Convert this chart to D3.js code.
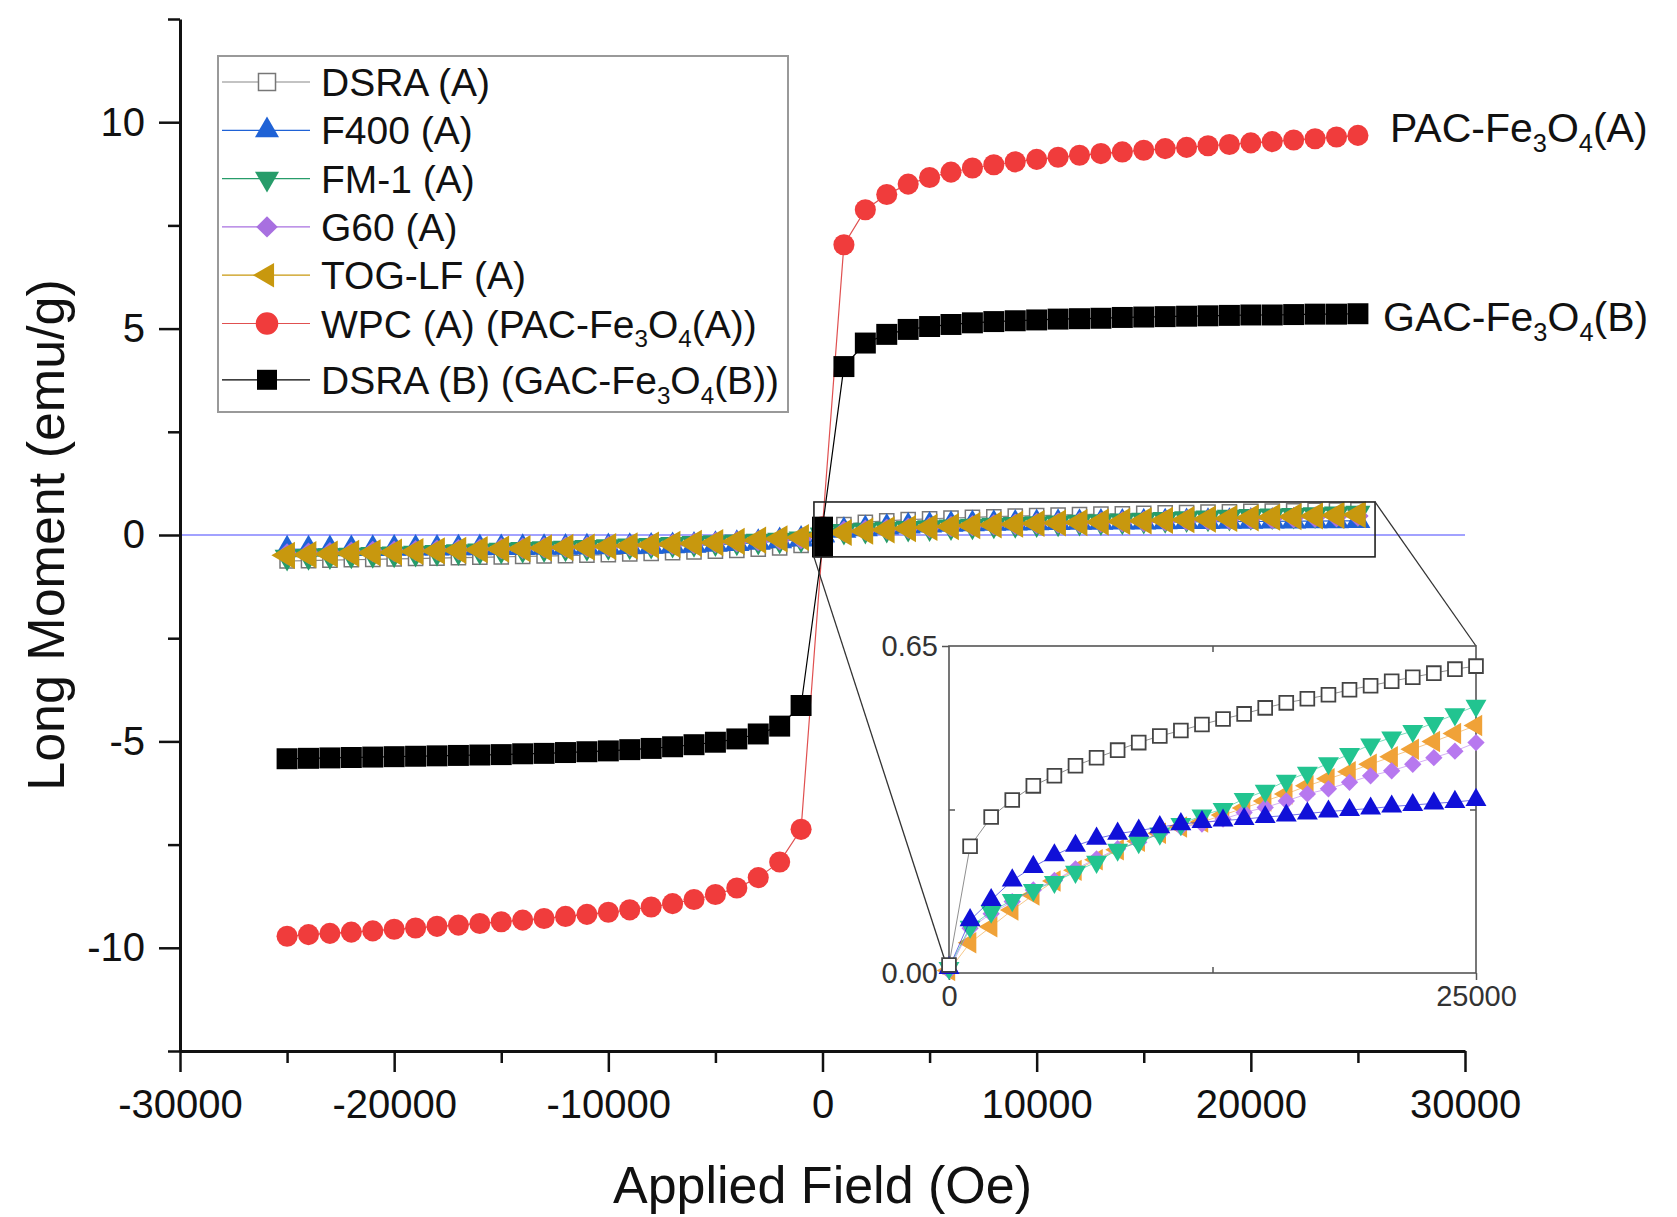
<!DOCTYPE html>
<html lang="en">
<head>
<meta charset="UTF-8">
<script src="https://d3js.org/d3.v7.min.js"></script>
<title>Magnetization curves</title>
<style>
    body{
        margin: 0;
        background: #fff;
        font-family: "Liberation Sans", Arial, sans-serif;
    }
    svg{
        display: block;
    }
</style>
</head>
<body>
<svg width="1677" height="1217"></svg>
<script>
// applied field steps (Oe): descending branch ends at 0, ascending branch starts at 0
const fieldNeg = [-25000,-24000,-23000,-22000,-21000,-20000,-19000,-18000,-17000,-16000,-15000,-14000,-13000,
    -12000,-11000,-10000,-9000,-8000,-7000,-6000,-5000,-4000,-3000,-2000,-1000,0]
const fieldPos = [0,1000,2000,3000,4000,5000,6000,7000,8000,9000,10000,11000,12000,13000,
    14000,15000,16000,17000,18000,19000,20000,21000,22000,23000,24000,25000]

// long moment (emu/g)
const dsraA_neg = [-0.63,-0.62,-0.61,-0.60,-0.59,-0.58,-0.57,-0.56,-0.55,-0.54,-0.53,-0.52,-0.51,
    -0.50,-0.49,-0.475,-0.46,-0.445,-0.43,-0.413,-0.393,-0.373,-0.345,-0.311,-0.254,-0.016]
const dsraA_pos = [0.016,0.252,0.31,0.344,0.372,0.392,0.412,0.428,0.443,0.458,0.471,0.482,0.494,
    0.505,0.515,0.527,0.537,0.545,0.553,0.563,0.571,0.580,0.588,0.596,0.604,0.610]

const f400_neg = [-0.345,-0.341,-0.338,-0.335,-0.332,-0.328,-0.325,-0.322,-0.318,-0.314,-0.311,-0.307,-0.304,
    -0.301,-0.297,-0.291,-0.284,-0.277,-0.267,-0.253,-0.234,-0.211,-0.184,-0.145,-0.105,-0.01]
const f400_pos = [0.01,0.105,0.145,0.184,0.211,0.234,0.253,0.267,0.277,0.283,0.29,0.296,0.30,
    0.303,0.306,0.31,0.313,0.317,0.321,0.324,0.327,0.331,0.334,0.337,0.34,0.344]

const fm1_neg = [-0.532,-0.515,-0.498,-0.482,-0.468,-0.454,-0.436,-0.418,-0.399,-0.382,-0.363,-0.346,-0.327,
    -0.313,-0.296,-0.277,-0.26,-0.245,-0.221,-0.201,-0.181,-0.165,-0.145,-0.122,-0.092,-0.01]
const fm1_pos = [0.01,0.092,0.122,0.145,0.165,0.181,0.201,0.221,0.245,0.26,0.277,0.296,0.313,
    0.326,0.346,0.362,0.382,0.398,0.417,0.435,0.454,0.468,0.481,0.497,0.514,0.531]

const g60_neg = [-0.459,-0.442,-0.428,-0.415,-0.402,-0.392,-0.379,-0.366,-0.356,-0.342,-0.329,-0.319,-0.306,
    -0.296,-0.29,-0.277,-0.26,-0.247,-0.227,-0.207,-0.184,-0.165,-0.142,-0.118,-0.089,-0.005]
const g60_pos = [0.005,0.089,0.118,0.142,0.165,0.184,0.207,0.227,0.247,0.26,0.277,0.29,0.296,
    0.306,0.319,0.329,0.342,0.356,0.366,0.379,0.392,0.402,0.415,0.428,0.441,0.458]

const tog_neg = [-0.493,-0.477,-0.461,-0.445,-0.43,-0.415,-0.40,-0.386,-0.372,-0.356,-0.342,-0.328,-0.314,
    -0.30,-0.29,-0.278,-0.262,-0.245,-0.225,-0.204,-0.183,-0.155,-0.125,-0.092,-0.06,-0.005]
const tog_pos = [0.005,0.06,0.092,0.125,0.155,0.183,0.204,0.225,0.245,0.262,0.278,0.29,0.30,
    0.314,0.328,0.342,0.356,0.372,0.386,0.40,0.415,0.43,0.445,0.46,0.476,0.492]

const wpc_neg = [-9.72,-9.68,-9.65,-9.62,-9.59,-9.55,-9.52,-9.48,-9.45,-9.41,-9.37,-9.33,-9.29,
    -9.24,-9.19,-9.14,-9.08,-9.01,-8.93,-8.83,-8.71,-8.55,-8.30,-7.92,-7.13,-0.2]
const wpc_pos = [0.2,7.03,7.88,8.25,8.50,8.66,8.79,8.89,8.97,9.04,9.10,9.15,9.20,
    9.24,9.28,9.32,9.36,9.39,9.43,9.46,9.50,9.53,9.57,9.60,9.64,9.68]

const dsraB_neg = [-5.42,-5.41,-5.40,-5.39,-5.38,-5.37,-5.36,-5.35,-5.34,-5.33,-5.32,-5.30,-5.29,
    -5.27,-5.25,-5.23,-5.20,-5.17,-5.13,-5.08,-5.02,-4.94,-4.82,-4.63,-4.13,-0.29]
const dsraB_pos = [0.19,4.08,4.65,4.86,4.98,5.05,5.10,5.14,5.17,5.19,5.21,5.23,5.24,
    5.25,5.27,5.28,5.29,5.30,5.31,5.32,5.33,5.33,5.34,5.35,5.35,5.36]

const xTicks = [-30000,-20000,-10000,0,10000,20000,30000]
const xMinor = [-25000,-15000,-5000,5000,15000,25000]
const yTicks = [-10,-5,0,5,10]
const yMinor = [-12.5,-7.5,-2.5,2.5,7.5,12.5]
const insetXTicks = [0,25000]
const insetYTicks = [0,0.65]

const series = [
    {label:"DSRA (A)", neg:dsraA_neg, pos:dsraA_pos, type:d3.symbolSquare, rot:0, size:200, fill:"#fff", stroke:"#777", line:"#888", inFill:"#fff", inStroke:"#444"},
    {label:"F400 (A)", neg:f400_neg, pos:f400_pos, type:d3.symbolTriangle, rot:0, size:270, fill:"#1f62d6", stroke:"none", line:"#1f62d6", inFill:"#1010d8"},
    {label:"FM-1 (A)", neg:fm1_neg, pos:fm1_pos, type:d3.symbolTriangle, rot:180, size:270, fill:"#279c6a", stroke:"none", line:"#279c6a", inFill:"#22c490"},
    {label:"G60 (A)", neg:g60_neg, pos:g60_pos, type:d3.symbolSquare, rot:45, size:230, fill:"#a870e0", stroke:"none", line:"#a870e0", inFill:"#b778ef"},
    {label:"TOG-LF (A)", neg:tog_neg, pos:tog_pos, type:d3.symbolTriangle, rot:-90, size:320, fill:"#c8980e", stroke:"none", line:"#c8980e", inFill:"#f0a238"},
    {label:"WPC (A) (PAC-Fe_3O_4(A))", neg:wpc_neg, pos:wpc_pos, type:d3.symbolCircle, rot:0, size:350, fill:"#f03c3c", stroke:"none", line:"#e05050"},
    {label:"DSRA (B) (GAC-Fe_3O_4(B))", neg:dsraB_neg, pos:dsraB_pos, type:d3.symbolSquare, rot:0, size:440, fill:"#000", stroke:"none", line:"#000"}
]
// legend marker sizes
const legendSizes = [290, 250, 250, 230, 260, 400, 400]

const svg = d3.select("svg")
const x = d3.scaleLinear().domain([-30000, 30000]).range([180, 1465])
const y = d3.scaleLinear().domain([-12.5, 12.5]).range([1051, 19])

// write text with _n subscripts
function richText(sel, str, fs) {
    let parts = str.split(/_(\d)/)
    let shift = fs * 0.25
    parts.forEach(function (p, i) {
        let t = sel.append("tspan").text(p)
        if (i % 2 === 1) t.attr("font-size", fs * 0.62).attr("dy", shift)
        else if (i > 0) t.attr("dy", -shift)
    })
}

function styleAxis(g, fs) {
    g.select(".domain").attr("stroke", "#111").attr("stroke-width", 3)
    g.selectAll(".tick line").attr("stroke", "#111").attr("stroke-width", 2.5)
    g.selectAll(".tick text").attr("font-size", fs).attr("fill", "#111")
        .attr("font-family", "Liberation Sans, Arial, sans-serif")
}

// zero reference line
svg.append("line")
    .attr("x1", x(-30000)).attr("x2", x(30000))
    .attr("y1", y(0)).attr("y2", y(0))
    .attr("stroke", "#4646ff").attr("stroke-width", 1.2)

// axes
let gx = svg.append("g").attr("transform", `translate(0,${y(-12.5)})`)
    .call(d3.axisBottom(x).tickValues(xTicks).tickSize(21).tickSizeOuter(0).tickPadding(18).tickFormat(d => String(d)))
styleAxis(gx, 40)
let gxm = svg.append("g").attr("transform", `translate(0,${y(-12.5)})`)
    .call(d3.axisBottom(x).tickValues(xMinor).tickSize(12).tickFormat(""))
gxm.select(".domain").remove()
styleAxis(gxm, 40)

let gy = svg.append("g").attr("transform", `translate(${x(-30000)},0)`)
    .call(d3.axisLeft(y).tickValues(yTicks).tickSize(21).tickSizeOuter(0).tickPadding(14).tickFormat(d => String(d)))
styleAxis(gy, 40)
let gym = svg.append("g").attr("transform", `translate(${x(-30000)},0)`)
    .call(d3.axisLeft(y).tickValues(yMinor).tickSize(12).tickFormat(""))
gym.select(".domain").remove()
styleAxis(gym, 40)

svg.append("text").attr("x", x(0)).attr("y", 1203)
    .attr("text-anchor", "middle").attr("font-size", 52).attr("fill", "#111")
    .text("Applied Field (Oe)")
svg.append("text").attr("transform", `translate(64,${y(0)}) rotate(-90)`)
    .attr("text-anchor", "middle").attr("font-size", 52).attr("fill", "#111")
    .text("Long Moment (emu/g)")

// main series
const line = d3.line()
series.forEach(function (s) {
    let pts = fieldNeg.map((f, i) => [f, s.neg[i]]).concat(fieldPos.map((f, i) => [f, s.pos[i]]))
    let g = svg.append("g")
    g.append("path")
        .attr("d", line(pts.map(p => [x(p[0]), y(p[1])])))
        .attr("fill", "none").attr("stroke", s.line).attr("stroke-width", 1.2)
    g.selectAll("path.pt").data(pts).join("path").attr("class", "pt")
        .attr("d", d3.symbol(s.type, s.size)())
        .attr("transform", d => `translate(${x(d[0])},${y(d[1])}) rotate(${s.rot})`)
        .attr("fill", s.fill).attr("stroke", s.stroke).attr("stroke-width", 1.5)
})

// legend
let lg = svg.append("g")
lg.append("rect").attr("x", 218).attr("y", 56).attr("width", 570).attr("height", 356)
    .attr("fill", "#fff").attr("stroke", "#999").attr("stroke-width", 2)
series.forEach(function (s, i) {
    let ly = 82 + i * 48.3 + (i === 6 ? 8 : 0)
    lg.append("line").attr("x1", 222).attr("x2", 310).attr("y1", ly).attr("y2", ly)
        .attr("stroke", s.line).attr("stroke-width", 1.2)
    lg.append("path")
        .attr("d", d3.symbol(s.type, legendSizes[i])())
        .attr("transform", `translate(267,${ly}) rotate(${s.rot})`)
        .attr("fill", s.fill).attr("stroke", s.stroke).attr("stroke-width", 1.5)
    let t = lg.append("text").attr("x", 321).attr("y", ly + 14)
        .attr("font-size", 39).attr("fill", "#111")
    richText(t, s.label, 39)
})

// curve labels
let t1 = svg.append("text").attr("x", 1390).attr("y", 142).attr("font-size", 41).attr("fill", "#111")
richText(t1, "PAC-Fe_3O_4(A)", 41)
let t2 = svg.append("text").attr("x", 1383).attr("y", 331).attr("font-size", 41).attr("fill", "#111")
richText(t2, "GAC-Fe_3O_4(B)", 41)

// zoom window and inset
const zx = [-400, 25800], zy = [-0.53, 0.8]
const xi = d3.scaleLinear().domain([0, 25000]).range([949, 1476])
const yi = d3.scaleLinear().domain([0, 0.65]).range([973, 646])

svg.append("rect").attr("x", x(zx[0])).attr("y", y(zy[1]))
    .attr("width", x(zx[1]) - x(zx[0])).attr("height", y(zy[0]) - y(zy[1]))
    .attr("fill", "none").attr("stroke", "#222").attr("stroke-width", 1.6)
svg.append("line").attr("x1", x(zx[0])).attr("y1", y(zy[0])).attr("x2", xi(0)).attr("y2", yi(0))
    .attr("stroke", "#333").attr("stroke-width", 1.3)
svg.append("line").attr("x1", x(zx[1])).attr("y1", y(zy[1])).attr("x2", xi(25000)).attr("y2", yi(0.65))
    .attr("stroke", "#333").attr("stroke-width", 1.3)

let inset = svg.append("g")
inset.append("rect").attr("x", xi(0)).attr("y", yi(0.65))
    .attr("width", xi(25000) - xi(0)).attr("height", yi(0) - yi(0.65))
    .attr("fill", "#fff").attr("stroke", "#555").attr("stroke-width", 1.6)

function styleInset(g) {
    g.select(".domain").remove()
    g.selectAll(".tick line").attr("stroke", "#555").attr("stroke-width", 1.5)
    g.selectAll(".tick text").attr("font-size", 29).attr("fill", "#333")
        .attr("font-family", "Liberation Sans, Arial, sans-serif")
}
styleInset(inset.append("g").attr("transform", `translate(0,${yi(0)})`)
    .call(d3.axisBottom(xi).tickValues(insetXTicks).tickSize(7).tickPadding(5).tickFormat(d => String(d))))
styleInset(inset.append("g").attr("transform", `translate(${xi(0)},0)`)
    .call(d3.axisLeft(yi).tickValues(insetYTicks).tickSize(7).tickPadding(4).tickFormat(d3.format(".2f"))))
styleInset(inset.append("g").attr("transform", `translate(0,${yi(0)})`)
    .call(d3.axisTop(xi).tickValues([12500]).tickSize(6).tickFormat("")))
styleInset(inset.append("g").attr("transform", `translate(0,${yi(0.65)})`)
    .call(d3.axisBottom(xi).tickValues([12500]).tickSize(6).tickFormat("")))
styleInset(inset.append("g").attr("transform", `translate(${xi(0)},0)`)
    .call(d3.axisRight(yi).tickValues([0.325]).tickSize(6).tickFormat("")))
styleInset(inset.append("g").attr("transform", `translate(${xi(25000)},0)`)
    .call(d3.axisLeft(yi).tickValues([0.325]).tickSize(6).tickFormat("")))

// inset draws the ascending branch of the five low-moment samples
const insetOrder = [4, 3, 2, 1, 0]
const insetSizes = [190, 190, 190, 150, 200]
insetOrder.forEach(function (k) {
    let s = series[k]
    let pts = fieldPos.map((f, i) => [f, s.pos[i]])
    let col = k === 0 ? s.inStroke : s.inFill
    let g = inset.append("g")
    g.append("path")
        .attr("d", line(pts.map(p => [xi(p[0]), yi(p[1])])))
        .attr("fill", "none").attr("stroke", col).attr("stroke-width", 1).attr("stroke-opacity", 0.6)
    g.selectAll("path.pt").data(pts).join("path").attr("class", "pt")
        .attr("d", d3.symbol(s.type, insetSizes[k])())
        .attr("transform", d => `translate(${xi(d[0])},${yi(d[1])}) rotate(${s.rot})`)
        .attr("fill", k === 0 ? "#fff" : col)
        .attr("stroke", k === 0 ? col : "none").attr("stroke-width", 1.8)
})
</script>
</body>
</html>
